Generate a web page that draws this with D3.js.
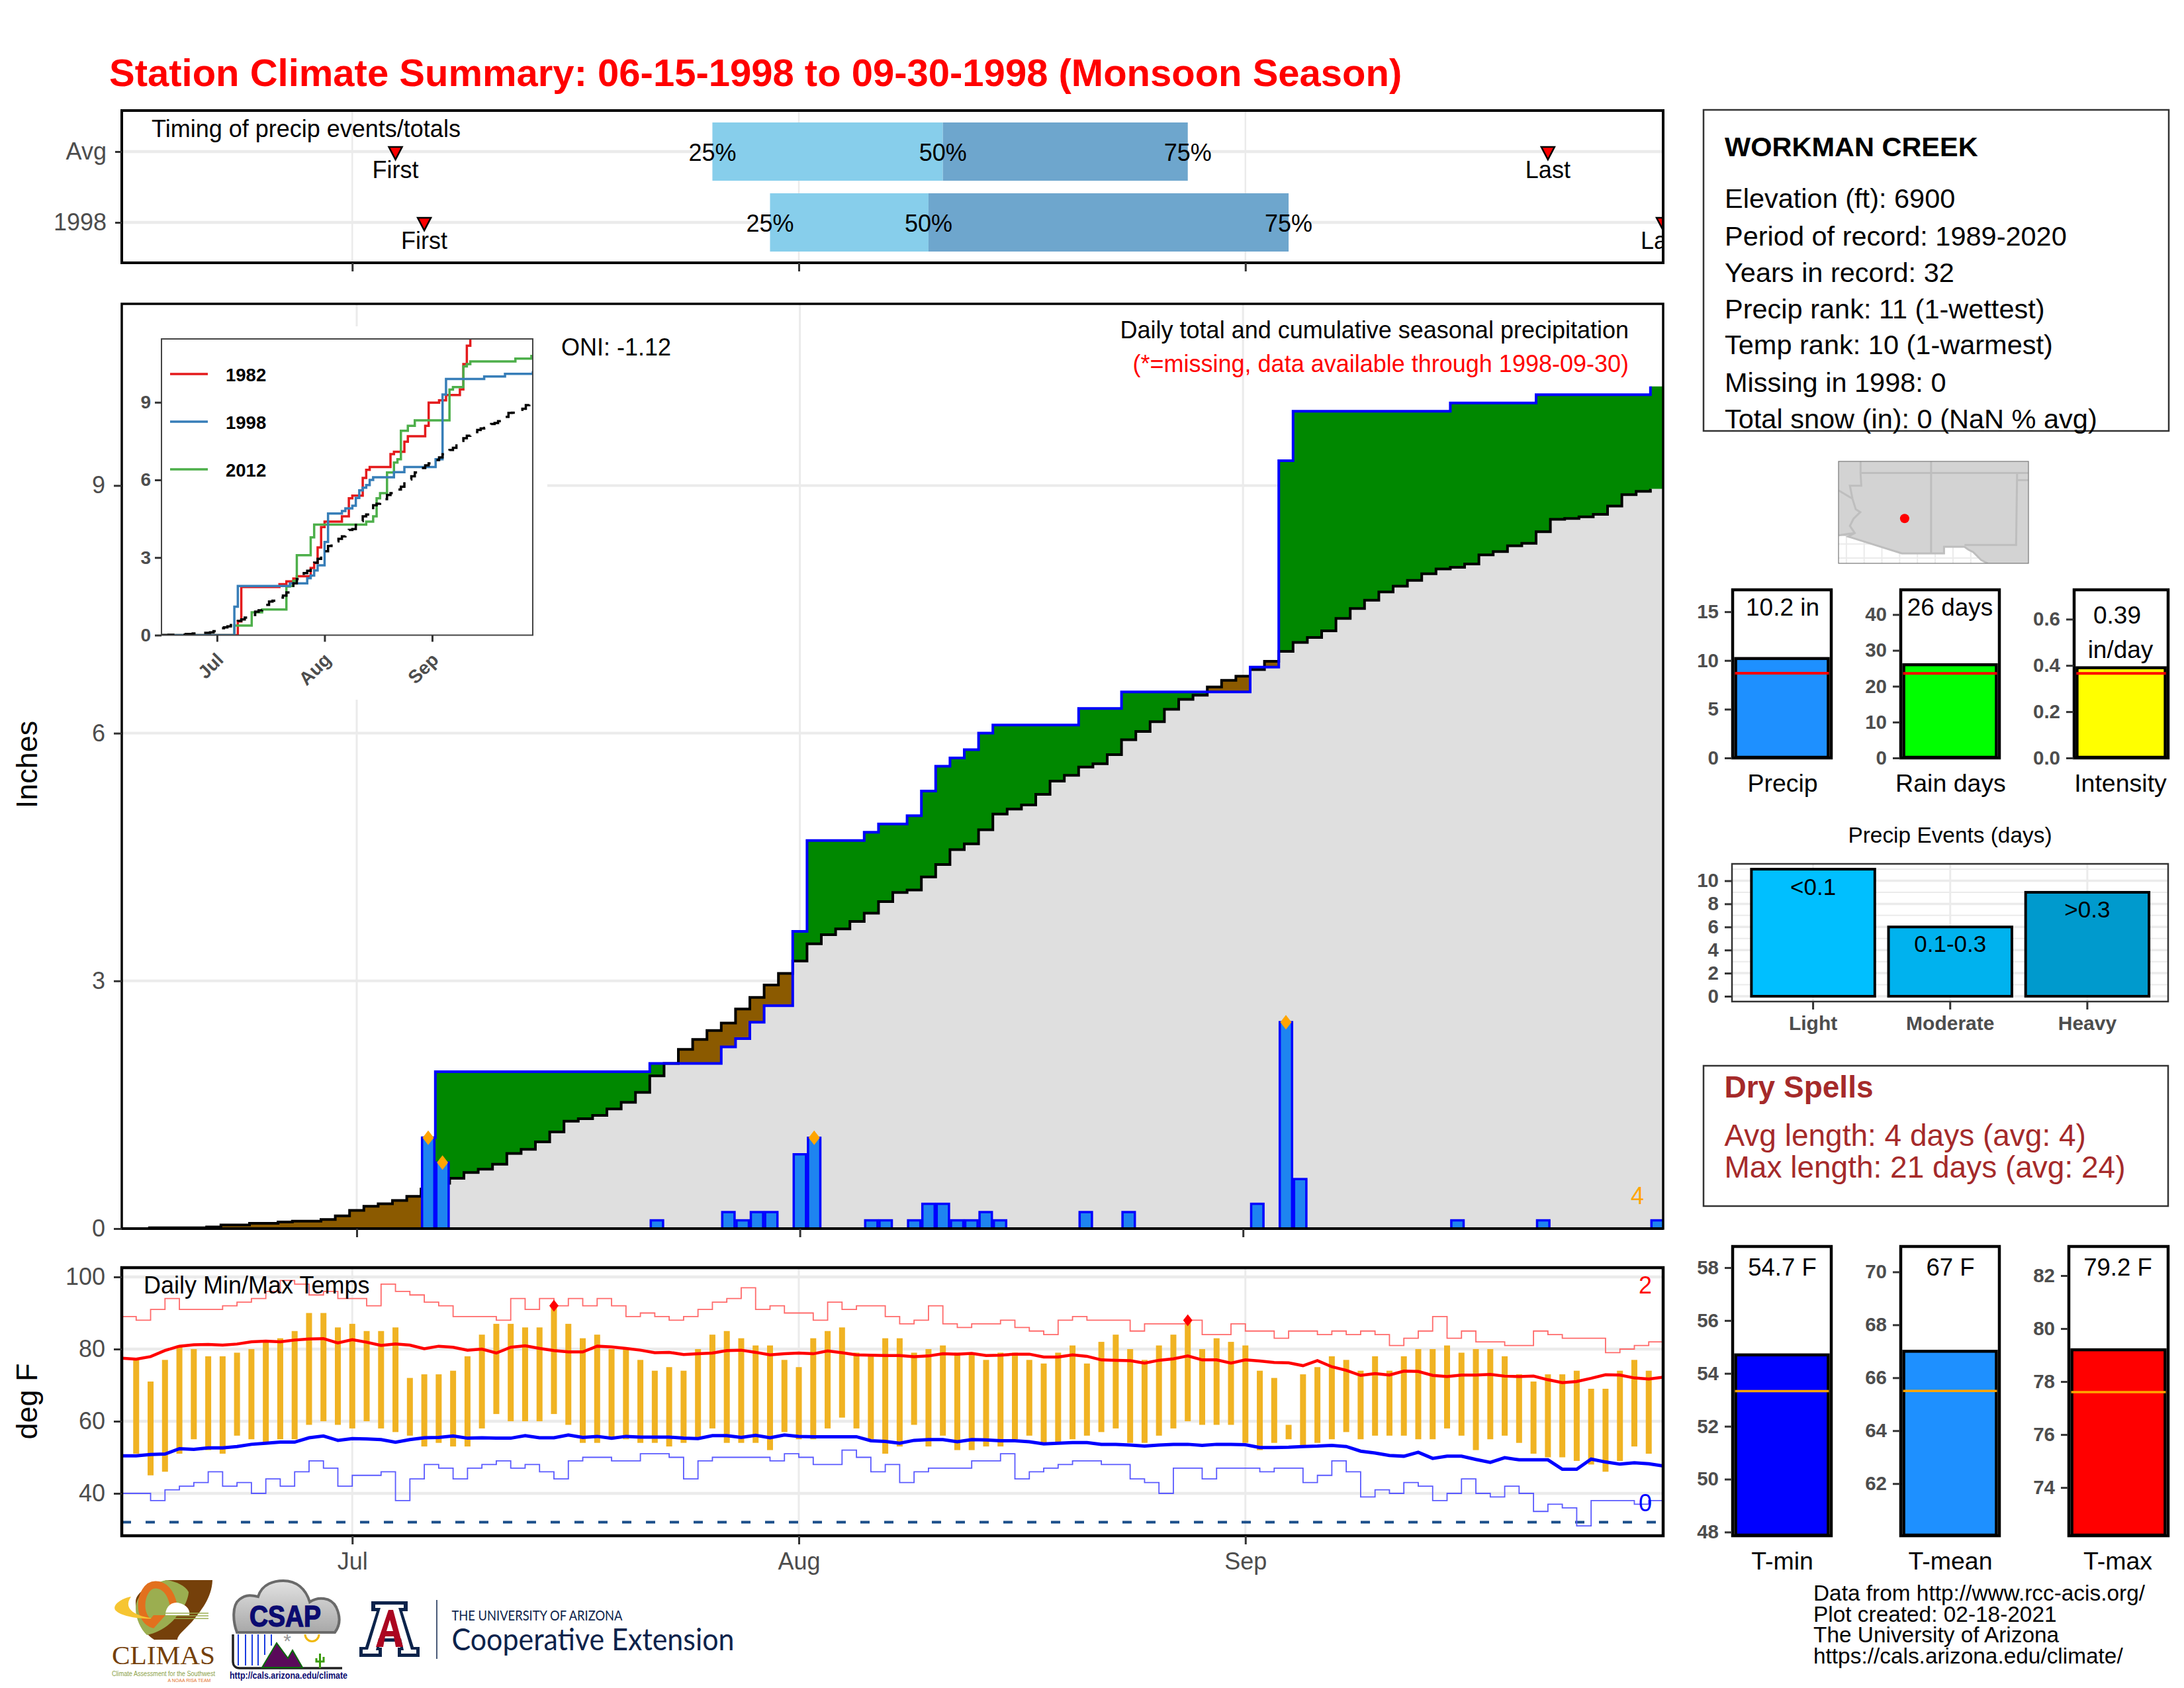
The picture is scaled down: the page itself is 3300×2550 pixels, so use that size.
<!DOCTYPE html>
<html><head><meta charset="utf-8">
<script src="https://cdnjs.cloudflare.com/ajax/libs/d3/7.8.5/d3.min.js"></script>
<style>html,body{margin:0;padding:0;background:#fff}svg{display:block}text{font-family:"Liberation Sans",Arial,sans-serif}</style>
</head><body><div id="c"></div>
<script>
// ---------- DATA (day index 0 = Jun 15, 107 = Sep 30) ----------
const monthTicks = [16, 47, 78];
const monthLabels = ["Jul", "Aug", "Sep"];
const precipDaily = [
0,0,0,0,0,0,0,0,0,0,
0,0,0,0,0,0,0,0,0,0,
0,1.1,.8,0,0,0,0,0,0,0,
0,0,0,0,0,0,0,.1,0,0,
0,0,.2,.1,.2,.2,0,.9,1.1,0,
0,0,.1,.1,0,.1,.3,.3,.1,.1,
.2,.1,0,0,0,0,0,.2,0,0,
.2,0,0,0,0,0,0,0,0,.3,
0,2.5,.6,0,0,0,0,0,0,0,
0,0,0,.1,0,0,0,0,0,.1,
0,0,0,0,0,0,0,.1];
const precipAvgCum = [
0,0,.01,.01,.01,.01,.02,.045,.045,.065,
.065,.08,.09,.09,.11,.155,.22,.27,.30,.34,
.39,.48,.55,.61,.68,.72,.78,.91,.96,1.05,
1.17,1.30,1.33,1.37,1.45,1.53,1.65,1.85,2.0,2.17,
2.29,2.40,2.49,2.66,2.80,2.95,3.09,3.24,3.45,3.56,
3.63,3.72,3.82,3.96,4.07,4.10,4.26,4.41,4.59,4.66,
4.83,5.02,5.08,5.13,5.26,5.42,5.49,5.59,5.63,5.74,
5.92,6.02,6.14,6.29,6.41,6.46,6.56,6.64,6.69,6.77,
6.87,6.99,7.10,7.16,7.24,7.39,7.51,7.61,7.71,7.78,
7.85,7.93,7.99,8.01,8.05,8.16,8.20,8.27,8.30,8.44,
8.59,8.60,8.62,8.65,8.75,8.89,8.93,8.96];
const recordDays = [21, 22, 48, 81];
// inset comparison years: [day, cumulative inches] at each change
const cum1982 = [[0,0],[22,.53],[23,1.86],[34,1.97],[36,2.08],[38,2.19],[39,2.28],[43,2.6],[44,2.79],[45,3.39],[46,4.18],[47,4.39],[52,4.59],[54,5.29],[55,5.39],[58,6.08],[59,6.39],[60,6.5],[66,7.0],[67,7.09],[70,7.48],[71,7.69],[76,8.09],[77,8.99],[80,9.08],[82,9.28],[86,9.5],[87,10.48],[88,11.19],[89,11.6],[107,11.6]];
const cum2012 = [[0,0],[21,.37],[26,.88],[29,.99],[36,1.88],[37,1.9],[38,2.1],[39,3.09],[43,3.78],[44,4.27],[59,4.39],[61,4.59],[62,5.29],[63,5.49],[65,6.29],[67,6.67],[68,6.8],[69,7.9],[71,8.09],[73,8.3],[83,9.49],[84,9.59],[87,10.39],[88,10.48],[89,10.58],[102,10.69],[106.6,10.79],[107,10.79]];
const insetYears = ["1982", "1998", "2012"];
const insetColors = ["#E41A1C", "#377EB8", "#4DAF4A"];
// timing: first, 25%, 50%, 75%, last (day index)
const timingRows = ["Avg", "1998"];
const timingAvg = [19, 41, 57, 74, 99];
const timing1998 = [21, 45, 56, 81, 107];
// temperatures in deg F
const tempHigh = [null,77,71,77,81,80,78,78,79,80,
82,83,85,90,90,86,87,85,85,86,
72,73,73,74,78,84,87,87,86,86,
92,87,83,84,80,80,77,74,75,74,
80,84,85,83,81,81,77,75,83,85,
86,79,78,83,83,79,80,81,79,79,
77,79,79,77,76,79,81,76,82,84,
80,77,81,84,88,80,83,82,81,74,
72,59,73,75,78,77,74,78,74,78,
80,80,81,79,80,80,78,73,71,73,
73,74,69,69,74,77,74,null];
const tempLow = [null,51,45,46,51,55,52,51,56,55,
54,55,55,59,60,59,58,60,58,57,
56,53,54,53,53,58,62,60,60,60,
62,59,54,54,55,55,54,54,53,54,
55,58,54,54,54,52,57,55,55,58,
61,58,55,51,53,59,53,56,52,52,
53,53,55,56,54,54,55,56,57,58,
54,54,56,58,60,59,59,59,54,52,
54,55,53,54,55,57,55,56,56,56,
55,55,58,56,52,55,56,54,51,50,
50,49,48,46,49,53,51,null];
const recHigh = [89,88,91,94,91,91,91,92,93,94,
96,99,98,95,96,94,94,92,98,96,
95,93,92,89,89,89,88,94,91,94,
92,94,92,94,92,89,90,89,88,89,
91,93,94,97,91,92,90,90,88,93,
91,92,92,89,87,88,92,87,86,87,
87,88,86,85,84,88,89,88,88,88,
85,87,87,87,88,84,84,87,85,85,
83,85,85,84,85,84,85,84,81,83,
85,89,83,85,82,82,81,81,85,84,
83,83,83,79,80,81,82,82];
const recLow = [40,40,38,41,42,43,46,42,43,40,
44,42,46,49,47,42,45,45,46,38,
44,48,47,44,47,48,49,47,48,46,
44,49,50,50,49,49,51,51,50,44,
49,50,50,50,50,49,51,50,48,48,
52,50,46,48,43,46,47,47,47,49,
49,51,44,46,47,48,49,49,48,48,
44,43,40,47,47,44,47,47,47,46,
47,47,43,45,49,46,39,41,40,43,
42,38,40,44,40,39,42,40,35,37,
36,31,38,38,38,37,38,38];
const meanHigh = [77.5,77.2,77.9,79.6,80.8,81.2,81.3,81.1,81.4,82.0,
82.2,82.0,82.5,82.8,82.9,81.7,82.6,81.9,81.0,81.4,
81.1,80.1,80.8,80.5,79.7,80.0,78.9,80.5,80.9,80.2,
79.6,79.2,79.2,80.8,80.6,80.2,79.7,79.0,79.1,78.5,
78.7,78.9,79.6,79.7,79.1,78.4,78.7,78.9,78.7,79.5,
79.0,78.4,78.3,78.2,78.2,77.9,78.1,78.7,78.6,78.8,
78.2,78.3,78.6,78.6,77.8,77.8,78.4,78.0,77.0,76.9,
76.8,76.1,76.9,77.3,78.1,77.0,77.0,76.1,77.0,76.7,
76.3,76.2,75.4,76.8,75.1,74.1,72.7,73.2,72.8,73.9,
73.8,72.7,72.4,72.8,72.8,73.0,72.5,72.4,72.5,71.5,
70.7,71.0,71.9,72.9,72.8,72.0,71.7,72.2];
const meanLow = [50.4,50.4,50.8,50.9,52.4,52.2,52.6,52.6,53.0,53.6,
53.9,54.2,54.2,55.4,55.9,54.7,55.2,55.1,54.9,54.2,
54.9,55.4,55.5,55.9,55.3,55.4,55.3,55.3,56.0,55.4,
55.4,56.2,55.5,55.8,55.3,55.8,55.6,55.6,55.6,55.3,
55.2,56.0,56.0,55.5,56.1,55.4,56.2,55.8,55.7,55.7,
55.7,55.7,54.6,54.4,53.9,54.7,54.9,54.9,54.3,54.9,
54.8,54.6,54.6,54.3,53.7,53.9,54.1,54.1,53.6,53.6,
53.4,53.1,53.4,53.6,53.6,53.3,53.6,53.6,53.5,52.7,
52.7,52.8,53.0,53.1,53.3,53.0,51.7,51.2,50.5,50.3,
51.4,49.7,50.3,50.3,49.4,48.6,49.9,49.3,49.3,49.3,
46.7,46.7,49.5,48.7,48.1,48.5,48.2,47.6];
const recordHighDays = [30, 74];
// summary gauges
const gaugeLabels = ["Precip", "Rain days", "Intensity"];
const gaugeValues = [10.2, 26, 0.39];
const gaugeAvgs = [8.69, 23.6, 0.366];
const gaugeTops = [17.25, 46.9, 0.727];
const gaugeColors = ["#1E90FF", "#00FF00", "#FFFF00"];
const gaugeTicks = [[0,5,10,15],[0,10,20,30,40],[0,.2,.4,.6]];
const eventCats = ["Light", "Moderate", "Heavy"];
const eventVals = [11, 6, 9];
const eventTags = ["<0.1", "0.1-0.3", ">0.3"];
const eventCols = ["#00BFFF", "#00B2EE", "#009ACD"];
const tempLabels = ["T-min", "T-mean", "T-max"];
const tempVals = [54.7, 67, 79.2];
const tempTags = ["54.7 F", "67 F", "79.2 F"];
const tempAvgs = [53.33, 65.5, 77.6];
const tempCols = ["#0000FF", "#1E90FF", "#FF0000"];
const tempDomains = [[47.86,58.8],[60.03,70.96],[72.18,83.1]];
const tempTicks = [[48,50,52,54,56,58],[62,64,66,68,70],[74,76,78,80,82]];
const infoLines = ["Elevation (ft): 6900","Period of record: 1989-2020","Years in record: 32","Precip rank: 11 (1-wettest)","Temp rank: 10 (1-warmest)","Missing in 1998: 0","Total snow (in): 0 (NaN % avg)"];
const credits = ["Data from http://www.rcc-acis.org/","Plot created: 02-18-2021","The University of Arizona","https://cals.arizona.edu/climate/"];
// base map outlines, [lon, lat]
const landEdge = [[-115.55,37.82],[-102.19,37.82],[-102.19,30.63],[-105.05,30.63],[-105.5,30.85],[-106.08,31.43],[-106.42,31.6],[-106.69,31.8],[-108.13,31.8],[-108.13,31.33],[-111.1,31.33],[-114.87,32.52],[-115.55,32.6]];
const stateLines = [
 [[-114,37.82],[-114,37],[-113.95,36.11],[-114.4,36.11],[-114.75,36.11],[-114.57,35.19],[-114.34,34.44],[-114.02,34.24],[-114.5,33.77],[-114.75,33.27],[-114.41,32.77],[-114.87,32.52],[-111.1,31.33],[-108.13,31.33],[-108.13,31.8],[-106.69,31.8],[-106.42,31.6],[-106.08,31.43],[-105.5,30.85],[-105.05,30.63]],
 [[-114,37],[-102.19,37]],
 [[-109.04,37.82],[-109.04,31.33]],
 [[-102.99,37],[-103.06,31.93],[-106.69,31.93]],
 [[-102.99,36.5],[-102.19,36.5]],
 [[-115.55,35.78],[-114.57,35.19]],
 [[-115.55,32.6],[-114.41,32.77]]];
const mapGridLon = [-115,-113.75,-112.5,-111.25,-110,-108.75,-107.5,-106.25];
const mapGridLat = [31,32];
const stationLonLat = [-110.9,33.79];

for (const [n,a] of Object.entries({precipDaily,precipAvgCum,tempHigh,tempLow,recHigh,recLow,meanHigh,meanLow}))
  if (a.length !== 108) throw new Error(n+" length "+a.length);

// ---------- HELPERS ----------
const FONT = '"Liberation Sans",Arial,sans-serif';
const svg = d3.select("#c").append("svg").attr("width",3300).attr("height",2550).attr("viewBox","0 0 3300 2550");
svg.append("rect").attr("width",3300).attr("height",2550).attr("fill","#fff");
const defs = svg.append("defs");
const GRID = "#ebebeb";
function txt(p,x,y,s,o={}){
  return p.append("text").attr("x",x).attr("y",y).attr("dy",o.dy??".35em")
    .attr("text-anchor",o.anchor||"start").attr("fill",o.fill||"#000")
    .attr("font-size",o.size||35).attr("font-weight",o.weight||"normal").text(s);
}
function styleAxis(g,size,weight){
  g.select(".domain").remove();
  g.selectAll(".tick line").attr("stroke","#333").attr("stroke-width",3);
  g.selectAll(".tick text").attr("fill","#4d4d4d").attr("font-size",size).attr("font-weight",weight||"normal").style("font-family",FONT);
}
function clip(id,x,y,w,h){ defs.append("clipPath").attr("id",id).append("rect").attr("x",x).attr("y",y).attr("width",w).attr("height",h); }
const hline=(p,x0,x1,y,c,w)=>p.append("line").attr("x1",x0).attr("x2",x1).attr("y1",y).attr("y2",y).attr("stroke",c).attr("stroke-width",w);
const vline=(p,x,y0,y1,c,w)=>p.append("line").attr("x1",x).attr("x2",x).attr("y1",y0).attr("y2",y1).attr("stroke",c).attr("stroke-width",w);

// Title
txt(svg,165,130,"Station Climate Summary: 06-15-1998 to 09-30-1998 (Monsoon Season)",{dy:0,size:58,weight:"bold",fill:"#FF0000"});

const L=184,R=2513;
const days = d3.range(108);

// ---------- TIMING PANEL ----------
(function(){
  const T=167,B=397;
  const x=d3.scaleLinear().domain([0,107]).range([L,R]);
  const cy=d=>d==="Avg"?229:336;
  const g=svg.append("g");
  clip("cT",L,T,R-L,B-T);
  monthTicks.forEach(d=>vline(g,x(d),T,B,GRID,2.5));
  timingRows.forEach(r=>hline(g,L,R,cy(r),GRID,4.5));
  const pc=g.append("g").attr("clip-path","url(#cT)");
  const rows=[["Avg",timingAvg],["1998",timing1998]];
  rows.forEach(([r,t])=>{
    const c=cy(r);
    pc.append("rect").attr("x",x(t[1])).attr("width",x(t[2])-x(t[1])).attr("y",c-44).attr("height",88).attr("fill","#87CEEB");
    pc.append("rect").attr("x",x(t[2])).attr("width",x(t[3])-x(t[2])).attr("y",c-44).attr("height",88).attr("fill","#6EA6CD");
    [1,2,3].forEach((k,i)=>txt(pc,x(t[k]),c+1,["25%","50%","75%"][i],{anchor:"middle",size:36}));
    [[0,"First"],[4,"Last"]].forEach(([k,s])=>{
      pc.append("path").attr("transform",`translate(${x(t[k])},${c})`).attr("d","M-10,-7L10,-7L0,12Z").attr("fill","#FF0000").attr("stroke","#000").attr("stroke-width",2.5);
      txt(pc,x(t[k]),c+27,s,{anchor:"middle",size:36});
    });
  });
  txt(g,229,194,"Timing of precip events/totals",{size:36});
  g.append("rect").attr("x",L).attr("y",T).attr("width",R-L).attr("height",B-T).attr("fill","none").attr("stroke","#000").attr("stroke-width",4);
  const ax=g.append("g").attr("transform",`translate(0,${B})`).call(d3.axisBottom(x).tickValues(monthTicks).tickSize(13).tickFormat(""));
  styleAxis(ax,36);
  const ay=d3.scaleOrdinal().domain(timingRows).range(timingRows.map(cy));
  const ayg=g.append("g").attr("transform",`translate(${L},0)`).call(d3.axisLeft(ay).tickSize(10).tickPadding(13));
  styleAxis(ayg,36);
})();

// ---------- MAIN PRECIP PANEL ----------
const obsCum = d3.cumsum(precipDaily).map(v=>+v.toFixed(2));
(function(){
  const T=459,B=1856;
  const x=d3.scaleLinear().domain([0,107]).range([193.4,2504.6]);
  const y=d3.scaleLinear().domain([0,11.2]).range([B,T]);
  const g=svg.append("g");
  clip("cM",L,T,R-L,B-T);
  monthTicks.forEach(d=>vline(g,x(d),T,B,GRID,3));
  [0,3,6,9].forEach(v=>hline(g,L,R,y(v),GRID,4));
  g.append("rect").attr("x",L+2).attr("y",493).attr("width",825-L).attr("height",1057-493).attr("fill","#fff");
  const pts=days.map(d=>({x:d-.5,o:obsCum[d],a:precipAvgCum[d]}));
  const fill=pts.concat([{x:107.5,o:obsCum[107],a:precipAvgCum[107]}]);
  const pc=g.append("g").attr("clip-path","url(#cM)");
  const area=(y0,y1)=>d3.area().curve(d3.curveStepAfter).x(d=>x(d.x)).y0(d=>y(y0(d))).y1(d=>y(y1(d)));
  pc.append("path").datum(fill).attr("fill","#DFDFDF").attr("d",area(()=>0,d=>Math.min(d.o,d.a)));
  pc.append("path").datum(fill).attr("fill","#008800").attr("d",area(d=>d.a,d=>Math.max(d.o,d.a)));
  pc.append("path").datum(fill).attr("fill","#8B5A00").attr("d",area(d=>d.o,d=>Math.max(d.o,d.a)));
  const ln=k=>d3.line().curve(d3.curveStepAfter).x(d=>x(d.x)).y(d=>y(d[k]));
  pc.append("path").datum(pts).attr("fill","none").attr("stroke","#000").attr("stroke-width",4).attr("d",ln("a"));
  pc.append("path").datum(pts.slice(21)).attr("fill","none").attr("stroke","#0000FF").attr("stroke-width",4).attr("d",ln("o"));
  pc.selectAll("rect.b").data(days.filter(d=>precipDaily[d]>0)).join("rect").attr("class","b")
    .attr("x",d=>x(d)-9.3).attr("width",18.6).attr("y",d=>y(precipDaily[d])).attr("height",d=>y(0)-y(precipDaily[d]))
    .attr("fill","#1E84F0").attr("stroke","#0000FF").attr("stroke-width",3.5);
  pc.selectAll("path.r").data(recordDays).join("path").attr("class","r")
    .attr("transform",d=>`translate(${x(d)},${y(precipDaily[d])})`).attr("d","M0,-11L8.5,0L0,11L-8.5,0Z").attr("fill","#FFA500");
  hline(g,L-1,R,B,"#000",4);
  g.append("rect").attr("x",L).attr("y",T).attr("width",R-L).attr("height",B-T).attr("fill","none").attr("stroke","#000").attr("stroke-width",3.5);
  styleAxis(g.append("g").attr("transform",`translate(0,${B})`).call(d3.axisBottom(x).tickValues(monthTicks).tickSize(13).tickFormat("")),36);
  styleAxis(g.append("g").attr("transform",`translate(${L},0)`).call(d3.axisLeft(y).tickValues([0,3,6,9]).tickFormat(d3.format("d")).tickSize(12).tickPadding(13)),36);
  g.append("text").attr("transform","translate(40,1155) rotate(-90)").attr("text-anchor","middle").attr("dy",".35em").attr("font-size",45).text("Inches");
  txt(g,848,524,"ONI: -1.12",{size:36});
  txt(g,2461,498,"Daily total and cumulative seasonal precipitation",{anchor:"end",size:36});
  txt(g,2461,549,"(*=missing, data available through 1998-09-30)",{anchor:"end",size:36,fill:"#FF0000"});
  txt(g,2474,1806,"4",{anchor:"middle",size:36,fill:"#FFA500"});

  // inset
  const iL=244,iR=805,iT=512,iB=959.5;
  const ix=d3.scaleLinear().domain([0,107]).range([iL,iR]);
  const iy=d3.scaleLinear().domain([0,11.45]).range([iB,iT]);
  const ig=g.append("g");
  clip("cI",iL,iT,iR-iL,iB-iT);
  const ic=ig.append("g").attr("clip-path","url(#cI)");
  const iln=d3.line().curve(d3.curveStepAfter).x(d=>ix(d[0])).y(d=>iy(d[1]));
  ic.append("path").datum(cum1982).attr("fill","none").attr("stroke",insetColors[0]).attr("stroke-width",3.5).attr("d",iln);
  ic.append("path").datum(cum2012).attr("fill","none").attr("stroke",insetColors[2]).attr("stroke-width",3.5).attr("d",iln);
  ic.append("path").datum(days.map(d=>[d,obsCum[d]])).attr("fill","none").attr("stroke",insetColors[1]).attr("stroke-width",3.5).attr("d",iln);
  ic.append("path").datum(days.map(d=>[d,precipAvgCum[d]])).attr("fill","none").attr("stroke","#000").attr("stroke-width",3.5).attr("stroke-dasharray","20 14").attr("d",iln);
  ig.append("rect").attr("x",iL).attr("y",iT).attr("width",iR-iL).attr("height",iB-iT).attr("fill","none").attr("stroke","#444").attr("stroke-width",2);
  const iax=ig.append("g").attr("transform",`translate(0,${iB})`).call(d3.axisBottom(ix).tickValues(monthTicks).tickSize(10).tickFormat((d,i)=>monthLabels[i]));
  styleAxis(iax,28,"bold");
  iax.selectAll(".tick text").attr("text-anchor","end").attr("transform","translate(4,32) rotate(-45)").attr("dy",".35em").attr("y",0).attr("x",0);
  styleAxis(ig.append("g").attr("transform",`translate(${iL},0)`).call(d3.axisLeft(iy).tickValues([0,3,6,9]).tickFormat(d3.format("d")).tickSize(10).tickPadding(6)),28,"bold");
  insetYears.forEach((yr,i)=>{
    const yy=[565,637,709][i];
    hline(ig,257,314,yy,insetColors[i],3.5);
    txt(ig,341,yy+1,yr,{size:27.5,weight:"bold"});
  });
})();

// ---------- TEMPERATURE PANEL ----------
(function(){
  const T=1915,B=2320;
  const x=d3.scaleLinear().domain([0,107]).range([L,R]);
  const y=d3.scaleLinear().domain([40,100]).range([2256,1929]);
  const g=svg.append("g");
  clip("cP",L,T,R-L,B-T);
  monthTicks.forEach(d=>vline(g,x(d),T,B,GRID,3));
  [40,60,80,100].forEach(v=>hline(g,L,R,y(v),GRID,4.5));
  const pc=g.append("g").attr("clip-path","url(#cP)");
  hline(pc,L,R,y(32),"#1A4E8A",4).attr("stroke-dasharray","14 22");
  const bd=days.filter(d=>tempHigh[d]!=null);
  pc.selectAll("rect.t").data(bd).join("rect").attr("class","t").attr("x",d=>x(d)-4.5).attr("width",9)
    .attr("y",d=>y(tempHigh[d])).attr("height",d=>y(tempLow[d])-y(tempHigh[d])).attr("fill","#F0B323");
  const stepLine=a=>d3.line().curve(d3.curveStepAfter).x(d=>x(d)).y(d=>y(a[d]))(days);
  pc.append("path").attr("d",stepLine(recHigh)).attr("fill","none").attr("stroke","#FF6A6A").attr("stroke-width",1.8);
  pc.append("path").attr("d",stepLine(recLow)).attr("fill","none").attr("stroke","#5A5AFF").attr("stroke-width",1.8);
  const sm=a=>d3.line().x(d=>x(d)).y(d=>y(a[d]))(days);
  pc.append("path").attr("d",sm(meanHigh)).attr("fill","none").attr("stroke","#FF0000").attr("stroke-width",4.5);
  pc.append("path").attr("d",sm(meanLow)).attr("fill","none").attr("stroke","#0000FF").attr("stroke-width",5);
  pc.selectAll("path.d").data(recordHighDays).join("path").attr("class","d").attr("transform",d=>`translate(${x(d)},${y(tempHigh[d])})`).attr("d","M0,-9L7,0L0,9L-7,0Z").attr("fill","#FF0000");
  txt(g,217,1941,"Daily Min/Max Temps",{size:36});
  txt(g,2486,1941,"2",{anchor:"middle",size:36,fill:"#FF0000"});
  txt(g,2486,2270,"0",{anchor:"middle",size:36,fill:"#0000FF"});
  g.append("rect").attr("x",L).attr("y",T).attr("width",R-L).attr("height",B-T).attr("fill","none").attr("stroke","#000").attr("stroke-width",4.5);
  styleAxis(g.append("g").attr("transform",`translate(0,${B})`).call(d3.axisBottom(x).tickValues(monthTicks).tickSize(13).tickPadding(12).tickFormat((d,i)=>monthLabels[i])),36);
  styleAxis(g.append("g").attr("transform",`translate(${L},0)`).call(d3.axisLeft(y).tickValues([40,60,80,100]).tickFormat(d3.format("d")).tickSize(12).tickPadding(13)),36);
  g.append("text").attr("transform","translate(40,2117) rotate(-90)").attr("text-anchor","middle").attr("dy",".35em").attr("font-size",45).text("deg F");
})();

// ---------- INFO BOX ----------
(function(){
  const g=svg.append("g");
  g.append("rect").attr("x",2574).attr("y",166).attr("width",703).attr("height",485).attr("fill","#fff").attr("stroke","#333").attr("stroke-width",2.5);
  txt(g,2606,221,"WORKMAN CREEK",{size:41.5,weight:"bold"});
  const ys=[299,356,411,466,520,577,632];
  infoLines.forEach((s,i)=>txt(g,2606,ys[i],s,{size:41.5}));
})();

// ---------- MAP ----------
(function(){
  const g=svg.append("g");
  const mx=d3.scaleLinear().domain([-115.55,-102.19]).range([2778,3065]);
  const my=d3.scaleLinear().domain([30.63,37.82]).range([851,697]);
  clip("cG",2778,697,287,154);
  const pc=g.append("g").attr("clip-path","url(#cG)");
  mapGridLon.forEach(v=>vline(pc,mx(v),697,851,GRID,2));
  mapGridLat.forEach(v=>hline(pc,2778,3065,my(v),GRID,2));
  const gl=d3.line().x(d=>mx(d[0])).y(d=>my(d[1]));
  pc.append("path").attr("d",gl(landEdge)+"Z").attr("fill","#D3D3D3");
  stateLines.forEach(s=>pc.append("path").attr("d",gl(s)).attr("fill","none").attr("stroke","#BEBEBE").attr("stroke-width",3));
  g.append("rect").attr("x",2778).attr("y",697).attr("width",287).attr("height",154).attr("fill","none").attr("stroke","#777").attr("stroke-width",1.2);
  g.append("circle").attr("cx",mx(stationLonLat[0])).attr("cy",my(stationLonLat[1])).attr("r",7).attr("fill","#FF0000");
})();

// ---------- GAUGES ----------
function gauge(left,right,top,bottom,dom,val,avg,col,ticks,lineCol,fmt){
  const g=svg.append("g");
  const y=d3.scaleLinear().domain(dom).range([bottom,top]);
  const x=d3.scaleBand().domain(["v"]).range([left,right]).paddingInner(0).paddingOuter(.025);
  g.append("rect").attr("x",left).attr("y",top).attr("width",right-left).attr("height",bottom-top).attr("fill","#fff");
  g.append("rect").attr("x",x("v")+1).attr("width",x.bandwidth()-2).attr("y",y(val)).attr("height",bottom-y(val)-1).attr("fill",col).attr("stroke","#000").attr("stroke-width",4.5);
  hline(g,x("v"),x("v")+x.bandwidth(),y(avg),lineCol,lineCol==="#FF0000"?4:3.5);
  g.append("rect").attr("x",left).attr("y",top).attr("width",right-left).attr("height",bottom-top).attr("fill","none").attr("stroke","#000").attr("stroke-width",4.5);
  styleAxis(g.append("g").attr("transform",`translate(${left-1},0)`).call(d3.axisLeft(y).tickValues(ticks).tickFormat(fmt).tickSize(11).tickPadding(9)),29.5,"bold");
}
[[2618,2767],[2872,3021],[3134,3276]].forEach((p,i)=>{
  const fmt=i===2?d3.format(".1f"):d3.format("d");
  gauge(p[0],p[1],891,1145,[0,gaugeTops[i]],gaugeValues[i],gaugeAvgs[i],gaugeColors[i],gaugeTicks[i],"#FF0000",fmt);
});
txt(svg,2693.6,917,"10.2 in",{anchor:"middle",size:37});
txt(svg,2946.5,917,"26 days",{anchor:"middle",size:37});
txt(svg,3199,929,"0.39",{anchor:"middle",size:37});
txt(svg,3204,981,"in/day",{anchor:"middle",size:37});
[2693.6,2947.5,3204].forEach((c,i)=>txt(svg,c,1183,gaugeLabels[i],{anchor:"middle",size:37.5}));

// ---------- EVENTS ----------
(function(){
  const g=svg.append("g");
  const T=1305,B=1513,l=2617,r=3276;
  const y=d3.scaleLinear().domain([0,10]).range([1505,1330.5]);
  const x=d3.scaleBand().domain(eventCats).range([2636,3257.5]).paddingInner(.1).paddingOuter(.05);
  d3.range(1,12,2).forEach(v=>hline(g,l,r,y(v),GRID,2));
  d3.range(0,11,2).forEach(v=>hline(g,l,r,y(v),GRID,3.5));
  eventCats.forEach(c=>vline(g,x(c)+x.bandwidth()/2,T,B,GRID,3));
  g.selectAll("rect.e").data(eventCats).join("rect").attr("class","e").attr("x",c=>x(c)).attr("width",x.bandwidth())
    .attr("y",(c,i)=>y(eventVals[i])).attr("height",(c,i)=>y(0)-y(eventVals[i])).attr("fill",(c,i)=>eventCols[i]).attr("stroke","#000").attr("stroke-width",4);
  const tagY=[1340,1426,1374];
  eventCats.forEach((c,i)=>txt(g,x(c)+x.bandwidth()/2,tagY[i],eventTags[i],{anchor:"middle",size:35}));
  g.append("rect").attr("x",l).attr("y",T).attr("width",r-l).attr("height",B-T).attr("fill","none").attr("stroke","#333").attr("stroke-width",2.5);
  styleAxis(g.append("g").attr("transform",`translate(${l},0)`).call(d3.axisLeft(y).tickValues([0,2,4,6,8,10]).tickFormat(d3.format("d")).tickSize(11).tickPadding(9)),29.5,"bold");
  styleAxis(g.append("g").attr("transform",`translate(0,${B})`).call(d3.axisBottom(x).tickSize(12).tickPadding(10)),30,"bold");
  txt(g,2946.5,1261,"Precip Events (days)",{anchor:"middle",size:33.4});
})();

// ---------- DRY SPELLS ----------
(function(){
  const g=svg.append("g");
  g.append("rect").attr("x",2574).attr("y",1610).attr("width",702).attr("height",212).attr("fill","#fff").attr("stroke","#333").attr("stroke-width",2.5);
  txt(g,2605.5,1658,"Dry Spells",{dy:0,size:46,weight:"bold",fill:"#A52A2A"});
  txt(g,2605.5,1731,"Avg length: 4 days (avg: 4)",{dy:0,size:46,fill:"#A52A2A"});
  txt(g,2605.5,1779,"Max length: 21 days (avg: 24)",{dy:0,size:46,fill:"#A52A2A"});
})();

// ---------- TEMP GAUGES ----------
[[2618,2767],[2872,3021],[3126,3276]].forEach((p,i)=>{
  gauge(p[0],p[1],1883,2320,tempDomains[i],tempVals[i],tempAvgs[i],tempCols[i],tempTicks[i],"#FFA500",d3.format("d"));
  const c=[2693,2947,3200][i];
  txt(svg,c,1914,tempTags[i],{anchor:"middle",size:36.5});
  txt(svg,c,2358,tempLabels[i],{anchor:"middle",size:37.5});
});
credits.forEach((s,i)=>txt(svg,2740,[2418,2450,2481,2513][i],s,{dy:0,size:33.4}));

// ---------- LOGOS ----------
(function(){
  const g=svg.append("g");
  // CLIMAS
  g.append("path").attr("d","M252,2387L321,2387C320,2415 302,2435 290,2450C278,2463 268,2470 268,2477L233,2477C215,2465 205,2445 205,2420C205,2405 225,2395 252,2387Z").attr("fill","#75400A");
  g.append("path").attr("d","M252,2387C225,2392 205,2410 205,2430C205,2445 213,2462 222,2470C240,2466 258,2455 268,2440C282,2425 285,2410 285,2405C280,2395 265,2389 252,2387Z").attr("fill","#9BAE50");
  g.append("path").attr("d","M262,2424C258,2405 248,2394 235,2394C222,2394 214,2410 214,2425C214,2440 222,2452 232,2454").attr("fill","none").attr("stroke","#E2701E").attr("stroke-width",11);
  g.append("path").attr("d","M250,2440C250,2425 262,2418 272,2422C282,2425 288,2432 286,2440Z").attr("fill","#fff");
  g.append("path").attr("d","M198,2412C178,2416 168,2428 176,2434C186,2443 215,2446 232,2445C208,2442 184,2432 198,2412Z").attr("fill","#F6C532");
  g.append("path").attr("d","M232,2440L250,2440L232,2460L222,2452Z").attr("fill","#E2701E");
  [2437,2441,2445].forEach(y=>hline(g,250,315,y,"#9BAE50",1.5));
  txt(g,247,2514,"CLIMAS",{dy:0,anchor:"middle",size:40}).style("font-family",'"Liberation Serif",serif').attr("fill","#75400A").attr("textLength",156).attr("lengthAdjust","spacingAndGlyphs");
  txt(g,247,2532,"Climate Assessment for the Southwest",{dy:0,anchor:"middle",size:10,fill:"#8CA24A"}).attr("textLength",156).attr("lengthAdjust","spacingAndGlyphs");
  txt(g,286,2541,"A NOAA RISA TEAM",{dy:0,anchor:"middle",size:7,fill:"#E2701E"});
  // CSAP
  const grad=defs.append("linearGradient").attr("id","cl").attr("x1",0).attr("y1",0).attr("x2",0).attr("y2",1);
  grad.append("stop").attr("offset",0).attr("stop-color","#E2E2E2");grad.append("stop").attr("offset",1).attr("stop-color","#A8A8A8");
  g.append("path").attr("d","M358,2466C352,2450 350,2425 362,2416C372,2408 382,2410 390,2412C396,2392 415,2388 428,2388C448,2388 462,2400 468,2420C480,2412 500,2412 508,2428C516,2445 512,2458 506,2466Z").attr("fill","url(#cl)").attr("stroke","#6A6A6A").attr("stroke-width",4);
  txt(g,431,2457,"CSAP",{dy:0,anchor:"middle",size:44,weight:"bold",fill:"#0B0B70"}).attr("textLength",108).attr("lengthAdjust","spacingAndGlyphs").attr("stroke","#0B0B70").attr("stroke-width",1.5);
  [[360,2516],[371,2516],[381,2516],[390,2516],[400,2500],[410,2486]].forEach(d=>vline(g,d[0],2469,d[1],"#1A3CE0",2));
  g.append("path").attr("d","M352,2469L352,2510C352,2516 356,2520 362,2520L517,2520").attr("fill","none").attr("stroke","#222").attr("stroke-width",3.5);
  g.append("path").attr("d","M396,2519L418,2482L435,2505L442,2493L457,2519Z").attr("fill","#5A0A5A").attr("stroke","#0A6A0A").attr("stroke-width",2);
  txt(g,434,2478,"*",{anchor:"middle",size:30,fill:"#999"});
  g.append("path").attr("d","M461,2469A10,10 0 0 0 482,2469").attr("fill","none").attr("stroke","#F0B80A").attr("stroke-width",3);
  g.append("path").attr("d","M483.5,2520L483.5,2498M478,2505L478,2510L489,2510L489,2503").attr("fill","none").attr("stroke","#3A9A0A").attr("stroke-width",3);
  txt(g,436,2531,"http://cals.arizona.edu/climate",{anchor:"middle",size:14,weight:"bold",fill:"#0B0B70"}).attr("textLength",178).attr("lengthAdjust","spacingAndGlyphs");
  // Arizona A
  g.append("path").attr("d","M561,2419L616,2419L616,2434L608,2434L625,2488L634,2488L634,2503L601,2503L601,2489L605,2489L603,2480L575,2480L573,2489L577,2489L577,2503L543,2503L543,2488L552,2488L569,2434L561,2434Z").attr("fill","#0C234B");
  g.append("path").attr("d","M567,2424L610,2424L610,2429L602,2429L621,2492L629,2492L629,2498L606,2498L606,2493L610,2493L606,2475L572,2475L568,2493L572,2493L572,2498L548,2498L548,2492L556,2492L575,2429L567,2429Z").attr("fill","#fff");
  g.append("path").attr("d","M587,2432L594,2432L609,2488L598,2488L595,2472L582,2472L579,2488L568,2488ZM589,2447L584,2464L594,2464Z").attr("fill","#AB0520").attr("fill-rule","evenodd");
  vline(g,660,2417,2506,"#0C234B",1.5);
  txt(g,682.5,2448,"THE UNIVERSITY OF ARIZONA",{dy:0,size:22,fill:"#0C234B"}).style("font-family",'Lato,sans-serif').attr("textLength",258).attr("lengthAdjust","spacingAndGlyphs");
  txt(g,682.5,2493,"Cooperative Extension",{dy:0,size:46,fill:"#0C234B"}).style("font-family",'Lato,sans-serif').attr("textLength",427).attr("lengthAdjust","spacingAndGlyphs");
})();
</script></body></html>
